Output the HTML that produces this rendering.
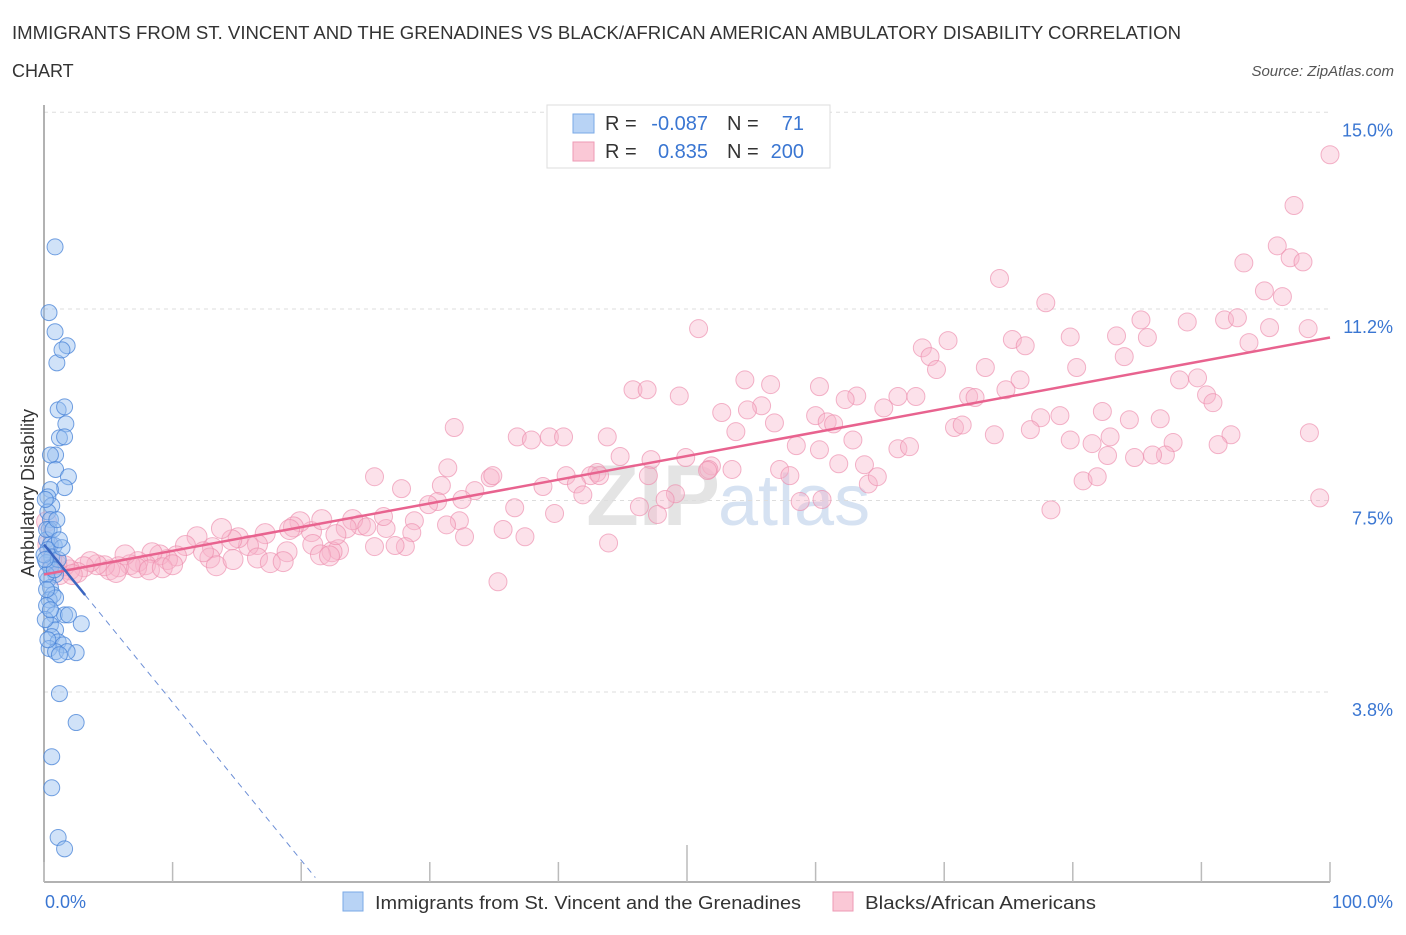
<!DOCTYPE html>
<html><head><meta charset="utf-8"><style>
body{margin:0;background:#fff;font-family:"Liberation Sans",sans-serif;}
svg text{font-family:"Liberation Sans",sans-serif;}
</style></head><body>
<svg id="chart" width="1406" height="930" viewBox="0 0 1406 930">
<text x="12" y="39" font-size="18" fill="#333" textLength="1169" lengthAdjust="spacingAndGlyphs">IMMIGRANTS FROM ST. VINCENT AND THE GRENADINES VS BLACK/AFRICAN AMERICAN AMBULATORY DISABILITY CORRELATION</text>
<text x="12" y="77" font-size="18" fill="#333">CHART</text>
<text x="1394" y="76" font-size="15" fill="#555" font-style="italic" text-anchor="end">Source: ZipAtlas.com</text>
<text x="720" y="525" font-size="86" fill="#e4e4e4" text-anchor="end" font-family="Liberation Serif" font-weight="bold">ZIP</text>
<text x="718" y="525" font-size="72" fill="#d6e2f2">atlas</text>
<g id="grid"></g>
<g id="axes"></g>
<g id="pts"></g>
<g id="trends"></g>
<text transform="translate(34,493) rotate(-90)" font-size="18" fill="#333" text-anchor="middle">Ambulatory Disability</text>
<g>
<rect x="547" y="105" width="283" height="63" fill="#fff" stroke="#ddd"/>
<rect x="573" y="114" width="21" height="19" fill="#b8d3f5" stroke="#7aa8e6"/>
<rect x="573" y="142" width="21" height="19" fill="#fac8d6" stroke="#ee9ab4"/>
<text x="605" y="130" font-size="20" fill="#333">R =</text>
<text x="708" y="130" font-size="20" fill="#3a76d2" text-anchor="end">-0.087</text>
<text x="727" y="130" font-size="20" fill="#333">N =</text>
<text x="804" y="130" font-size="20" fill="#3a76d2" text-anchor="end">71</text>
<text x="605" y="158" font-size="20" fill="#333">R =</text>
<text x="708" y="158" font-size="20" fill="#3a76d2" text-anchor="end">0.835</text>
<text x="727" y="158" font-size="20" fill="#333">N =</text>
<text x="804" y="158" font-size="20" fill="#3a76d2" text-anchor="end">200</text>
</g>
<text x="45" y="908" font-size="18" fill="#3a76d2">0.0%</text>
<text x="1393" y="908" font-size="18" fill="#3a76d2" text-anchor="end">100.0%</text>
<g>
<rect x="343" y="892" width="20" height="19" fill="#b8d3f5" stroke="#7aa8e6"/>
<text x="375" y="909" font-size="18" fill="#333" textLength="426" lengthAdjust="spacingAndGlyphs">Immigrants from St. Vincent and the Grenadines</text></g>
<g>
<rect x="833" y="892" width="20" height="19" fill="#fac8d6" stroke="#ee9ab4"/>
<text x="865" y="909" font-size="18" fill="#333" textLength="231" lengthAdjust="spacingAndGlyphs">Blacks/African Americans</text></g>
</svg>
<script>
const yTicks=[15.0,11.2,7.5,3.8];
const yTickLabels=["15.0%","11.2%","7.5%","3.8%"];
const pinkX=[100,97.2,95.9,93.3,96.9,97.9,94.9,96.3,74.3,77.9,50.9,85.3,88.9,91.8,92.8,95.3,98.3,93.7,83.4,85.8,79.8,75.3,76.3,70.3,68.3,68.9,69.4,84.0,80.3,73.2,75.9,56.5,60.3,45.8,46.9,49.4,54.5,88.3,89.7,90.4,90.9,66.4,67.8,63.2,62.3,71.9,72.4,74.8,82.3,79.0,77.5,84.4,86.8,55.8,54.7,52.7,60.0,60.9,61.4,65.3,56.8,62.9,70.8,71.4,73.9,76.7,79.8,82.9,81.5,98.4,92.3,91.3,87.8,87.2,86.2,84.8,82.7,66.4,67.3,63.8,61.8,58.5,53.8,51.9,49.9,43.8,36.8,37.9,39.3,40.4,31.9,44.8,47.2,43.0,42.5,43.2,40.6,41.4,47.0,51.7,53.5,51.6,49.1,48.3,46.3,47.7,43.9,41.9,39.7,36.6,38.8,34.7,33.5,32.5,31.4,30.9,34.9,32.3,31.3,30.6,29.9,28.8,28.6,28.1,27.3,26.6,25.7,27.8,35.3,35.7,32.7,37.4,26.4,24.6,24.0,23.5,22.9,22.4,20.8,19.9,20.9,21.5,22.2,25.7,25.1,18.9,19.4,17.2,16.6,15.9,15.1,14.6,13.8,13.1,12.9,13.4,11.9,12.4,11.0,10.3,9.6,9.0,8.4,7.9,7.3,6.7,6.3,5.8,5.1,4.7,4.1,3.6,3.1,2.6,2.0,1.6,1.0,0.6,0.3,0.2,1.2,2.2,5.6,7.2,8.2,9.2,10.0,14.7,16.6,17.6,18.6,22.7,19.1,21.6,64.1,60.3,64.8,58.8,60.5,57.2,58.0,78.3,99.2,80.8,81.9];
const pinkY=[14.18,13.20,12.42,12.09,12.19,12.11,11.55,11.44,11.79,11.32,10.82,10.99,10.95,10.99,11.03,10.84,10.82,10.55,10.68,10.65,10.66,10.61,10.49,10.59,10.45,10.28,10.03,10.28,10.07,10.07,9.83,9.74,9.70,9.64,9.64,9.52,9.83,9.83,9.87,9.54,9.39,9.51,9.51,9.52,9.45,9.51,9.49,9.64,9.22,9.14,9.10,9.06,9.08,9.33,9.25,9.20,9.14,9.02,8.98,9.29,9.00,8.67,8.91,8.96,8.77,8.87,8.67,8.73,8.60,8.81,8.77,8.58,8.62,8.38,8.38,8.33,8.37,8.50,8.54,8.19,8.21,8.56,8.83,8.17,8.33,8.73,8.73,8.67,8.73,8.73,8.91,8.35,8.29,8.04,7.98,7.98,7.98,7.82,7.98,8.10,8.10,8.08,7.63,7.52,7.38,7.23,6.68,7.61,7.25,7.36,7.77,7.94,7.69,7.52,8.13,7.79,7.98,7.11,7.03,7.48,7.42,7.11,6.88,6.61,6.63,6.96,7.96,7.73,5.93,6.94,6.80,6.80,7.19,7.03,7.13,6.97,6.55,6.51,6.90,7.09,6.65,6.45,6.43,6.61,6.99,6.51,6.99,6.86,6.65,6.63,6.78,6.74,6.96,6.59,6.39,6.24,6.80,6.51,6.63,6.43,6.36,6.45,6.49,6.26,6.32,6.26,6.45,6.22,6.16,6.24,6.26,6.32,6.22,6.11,6.16,6.24,6.26,6.36,6.65,7.09,6.07,6.07,6.11,6.20,6.16,6.20,6.26,6.36,6.39,6.30,6.32,6.84,6.94,7.13,7.82,8.48,7.96,7.48,7.52,8.10,7.98,7.32,7.55,7.88,7.96];
const blueX=[0.86,0.39,0.86,1.0,1.8,1.4,1.1,1.6,1.7,1.2,1.6,0.9,0.5,0.9,1.9,1.6,0.5,0.3,0.6,0.3,0.5,0.4,0.2,0.5,0.8,0.3,0.6,0.2,0.5,0.9,0.3,0.5,0.7,0.4,0.9,0.2,0.8,1.6,1.9,2.9,0.5,0.9,0.6,1.1,1.5,0.4,0.9,2.5,1.8,1.2,1.2,2.5,0.6,0.6,1.1,1.6,0.1,0.2,0,0.2,0.7,1.1,1.4,0.1,0.2,1.0,1.2,0.3,0.5,0.8,0.1];
const blueY=[12.40,11.13,10.76,10.16,10.49,10.41,9.25,9.31,8.98,8.71,8.73,8.38,8.38,8.10,7.96,7.75,7.71,7.57,7.40,7.28,7.13,6.94,6.74,6.65,6.63,6.55,6.41,6.30,6.20,6.07,5.97,5.82,5.68,5.58,5.62,5.47,5.29,5.29,5.29,5.12,5.10,5.00,4.87,4.77,4.71,4.64,4.58,4.56,4.58,4.52,3.77,3.21,2.55,1.95,0.99,0.77,7.52,6.94,6.45,6.07,6.94,6.36,6.59,5.20,5.78,7.13,6.74,4.81,5.39,6.16,6.36];
const pinkTrend=[6.07,10.65];
const blueTrend=[6.65,-0.305];

const NS="http://www.w3.org/2000/svg";
const X=v=>44+v*12.86;
const Y=v=>309+(11.2-v)*51.76;
function mk(tag,attrs,parent){const e=document.createElementNS(NS,tag);for(const k in attrs)e.setAttribute(k,attrs[k]);parent.appendChild(e);return e;}
const grid=document.getElementById('grid'),axes=document.getElementById('axes'),pts=document.getElementById('pts'),tr=document.getElementById('trends');
yTicks.forEach((t,i)=>{
 const l=mk('line',{x1:44,x2:1330,y1:Y(t),y2:Y(t),stroke:'#ddd','stroke-dasharray':'4,4'},grid);
 
 
 const tx=mk('text',{x:1393,y:Y(t)+24,'font-size':18,fill:'#3a76d2','text-anchor':'end'},grid);
 tx.textContent=yTickLabels[i];
 
 
});
const ya=mk('line',{x1:44,x2:44,y1:105,y2:882,stroke:'#999','stroke-width':1.5},axes);


const xa=mk('line',{x1:44,x2:1330,y1:882,y2:882,stroke:'#999','stroke-width':1.5},axes);


for(let i=0;i<=10;i++){
 const tk=mk('line',{x1:X(i*10),x2:X(i*10),y1:i==5?845:862,y2:882,stroke:'#bbb','stroke-width':1.5},axes);
 
 
}
pinkX.forEach((x,i)=>{
 const c=mk('circle',{cx:X(x),cy:Y(pinkY[i]),r:x<25?10:9,fill:'rgba(248,180,202,0.4)',stroke:'rgba(236,140,172,0.65)','stroke-width':1},pts);
 
 
});
blueX.forEach((x,i)=>{
 const c=mk('circle',{cx:X(x),cy:Y(blueY[i]),r:8,fill:'rgba(150,190,240,0.45)',stroke:'rgba(70,130,215,0.75)','stroke-width':1},pts);
 
 
});
const pl=mk('line',{x1:X(0),y1:Y(pinkTrend[0]),x2:X(100),y2:Y(pinkTrend[1]),stroke:'#e8638f','stroke-width':2.5},tr);


const bs=mk('line',{x1:X(0),y1:Y(blueTrend[0]),x2:X(3.2),y2:Y(blueTrend[0]+blueTrend[1]*3.2),stroke:'#3b65c0','stroke-width':2.5},tr);


const bd=mk('line',{x1:X(3.2),y1:Y(blueTrend[0]+blueTrend[1]*3.2),x2:X(21.1),y2:Y(blueTrend[0]+blueTrend[1]*21.1),stroke:'#6d8fd6','stroke-width':1,'stroke-dasharray':'6,5'},tr);


</script>
</body></html>
